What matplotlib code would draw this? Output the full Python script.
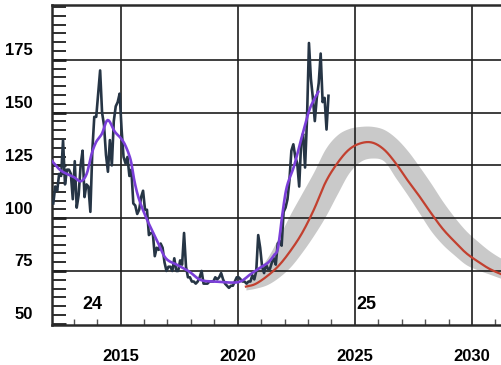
import numpy as np
import matplotlib
matplotlib.use("Agg")
import matplotlib.pyplot as plt
from matplotlib.transforms import ScaledTranslation

# ---------------- data ----------------
# monthly observed F10.7 (dark line), starting Feb 2012
obs_start_year = 2012
obs_start_month = 2
obs_values = [
    107, 115, 113, 121, 120, 137, 116, 123, 123, 121, 109,            # 2012 (Feb-Dec)
    127, 105, 111, 125, 132, 110, 116, 115, 103, 132, 148, 148,       # 2013
    159, 170, 150, 144, 130, 122, 137, 125, 146, 153, 155, 159,       # 2014
    142, 129, 126, 129, 120, 123, 107, 106, 102, 104, 110, 113,       # 2015
    104, 104, 92, 93, 93, 82, 86, 85, 88, 86, 79, 75,                 # 2016
    77, 77, 75, 81, 75, 75, 80, 78, 93, 77, 72, 72,                   # 2017
    70, 70, 69, 70, 72, 75, 69, 69, 69, 70, 70, 70,                   # 2018
    72, 71, 72, 74, 71, 69, 68, 67, 68, 68, 70, 72,                   # 2019
    72, 71, 70, 70, 69, 70, 70, 73, 71, 75, 92, 86,                   # 2020
    77, 74, 78, 76, 76, 79, 81, 78, 88, 89, 87, 103,                  # 2021
    105, 109, 118, 132, 135, 129, 126, 115, 136, 140, 124, 147,       # 2022
    183, 166, 157, 146, 157, 164, 178, 155, 157, 142, 158,            # 2023
]

# smoothed observed (purple)
smooth_years = [2012.0, 2012.4, 2012.7, 2013.0, 2013.3, 2013.55, 2013.75, 2013.95,
                2014.2, 2014.45, 2014.75, 2015.0, 2015.2, 2015.43, 2015.6, 2015.8,
                2016.14, 2016.57, 2016.93, 2017.43, 2017.93, 2018.43, 2019.14,
                2019.86, 2020.2, 2020.55, 2020.95, 2021.3, 2021.55, 2021.72,
                2021.92, 2022.1, 2022.4, 2022.65, 2022.85, 2023.05, 2023.25, 2023.45]
smooth_values = [128, 123, 121, 119.5, 117.5, 121, 130, 136,
                 140, 146.5, 141, 138, 134.5, 127.5, 117, 108.5,
                 99, 89, 81, 77.8, 74.7, 70.7, 69.9,
                 69.5, 70.5, 73.5, 76.5, 79, 82.5, 86,
                 103, 115, 124.5, 135, 143, 151, 156, 160]

# predicted cycle 25 (red) with uncertainty band (grey)
pred_years = [2020.35, 2020.75, 2021.25, 2021.75, 2022.25, 2022.75, 2023.25, 2023.75,
              2024.25, 2024.75, 2025.25, 2025.75, 2026.25, 2026.75, 2027.25, 2027.75,
              2028.25, 2028.75, 2029.25, 2029.75, 2030.25, 2030.75, 2031.25, 2031.5]
pred_values = [67.6, 68.8, 72.5, 77.5, 84.5, 93, 104, 117,
               126, 132.5, 135.5, 135.8, 132.5, 126, 118, 110.5,
               102.5, 95, 89, 83.5, 79.5, 76, 73.5, 72.5]
pred_upper = [69.5, 74, 81, 91, 102, 112, 122, 133,
              139.5, 142.5, 143.5, 143.5, 142, 138, 132, 124.5,
              116.5, 108, 100.5, 94, 89, 84.5, 81, 80]
pred_lower = [66, 66.8, 68.5, 72, 77, 84, 92, 101,
              111.5, 121.5, 127, 128.5, 127, 119, 111, 102.5,
              94, 87.5, 82.5, 78, 75.5, 73.5, 71.5, 71]

x_ticks = [2015, 2020, 2025, 2030]
y_ticks = [50, 75, 100, 125, 150, 175]
cycle_labels = [("24", 2013.36), ("25", 2025.08)]


def catmull_rom(xs, ys, steps=10):
    """Smooth curve through the given points (drawing only)."""
    xs = np.asarray(xs, float)
    ys = np.asarray(ys, float)
    px = np.concatenate([[2 * xs[0] - xs[1]], xs, [2 * xs[-1] - xs[-2]]])
    py = np.concatenate([[2 * ys[0] - ys[1]], ys, [2 * ys[-1] - ys[-2]]])
    outx, outy = [], []
    t = np.linspace(0, 1, steps, endpoint=False)
    for i in range(1, len(px) - 2):
        for arr, out in ((px, outx), (py, outy)):
            p0, p1, p2, p3 = arr[i - 1], arr[i], arr[i + 1], arr[i + 2]
            out.extend(0.5 * ((2 * p1) + (-p0 + p2) * t +
                              (2 * p0 - 5 * p1 + 4 * p2 - p3) * t ** 2 +
                              (-p0 + 3 * p1 - 3 * p2 + p3) * t ** 3))
    outx.append(xs[-1])
    outy.append(ys[-1])
    return np.array(outx), np.array(outy)


# ---------------- figure ----------------
W, H = 502, 365
fig = plt.figure(figsize=(W / 100, H / 100), dpi=100)
ax = fig.add_axes([52 / W, 1 - 325 / H, 1 - 52 / W + 0.004, 320 / H])
ax.set_xlim(2012.07, 2031.37)
ax.set_ylim(49.4, 201)

font = dict(family=["Liberation Sans", "DejaVu Sans"], fontweight="bold", fontsize=12)
dark = "#1e1e1e"

# grid
for xv in x_ticks:
    ax.axvline(xv, color=dark, lw=1.2, zorder=2)
for yv in y_ticks[1:]:
    ax.axhline(yv, color=dark, lw=1.2, zorder=2)

# band + prediction
bx, bu = catmull_rom(pred_years, pred_upper)
_, bl = catmull_rom(pred_years, pred_lower)
ax.fill_between(bx, bl, bu, color="#c9c9c9", lw=0, zorder=1)
rx, ry = catmull_rom(pred_years, pred_values)
ax.plot(rx, ry, color="#c2402f", lw=1.6, zorder=3)

# observed
n = len(obs_values)
months = np.arange(n) + (obs_start_month - 1)
obs_years = obs_start_year + (months + 0.5) / 12.0
ax.plot(obs_years, obs_values, color="#263545", lw=1.9, zorder=4, solid_joinstyle="round")
sx, sy = catmull_rom(smooth_years, smooth_values, steps=6)
ax.plot(sx, sy, color="#7b3fd9", lw=1.9, zorder=5, solid_capstyle="round")

# spines
for s in ["left", "bottom", "top"]:
    ax.spines[s].set_linewidth(1.8)
    ax.spines[s].set_color("#2a2a2a")
ax.spines["right"].set_visible(False)

# ticks
ax.set_xticks(x_ticks)
ax.set_xticks(np.arange(2013, 2032), minor=True)
ax.set_yticks(y_ticks)
ax.set_yticks(np.arange(50, 201, 25 / 6), minor=True)
ax.tick_params(axis="x", which="major", direction="in", length=0, pad=17)
ax.tick_params(axis="x", which="minor", direction="in", length=4.5, width=1.0, color="#555555")
ax.tick_params(axis="y", which="major", direction="in", length=10, width=2.0, color=dark, labelleft=False)
ax.tick_params(axis="y", which="minor", direction="in", length=10, width=1.3, color=dark)
ax.set_xticklabels([str(v) for v in x_ticks], **font)

# y labels drawn slightly above their grid lines
off = ScaledTranslation(-19 / 100, 9 / 100, fig.dpi_scale_trans)
for v in y_ticks:
    ax.text(0, v, str(v), transform=ax.get_yaxis_transform() + off,
            ha="right", va="center", **font)

for txt, xv in cycle_labels:
    ax.text(xv, 59, txt, ha="left", va="center", zorder=6, fontsize=13,
            family=["Liberation Sans", "DejaVu Sans"], fontweight="bold")

fig.savefig("out.png", dpi=100)
